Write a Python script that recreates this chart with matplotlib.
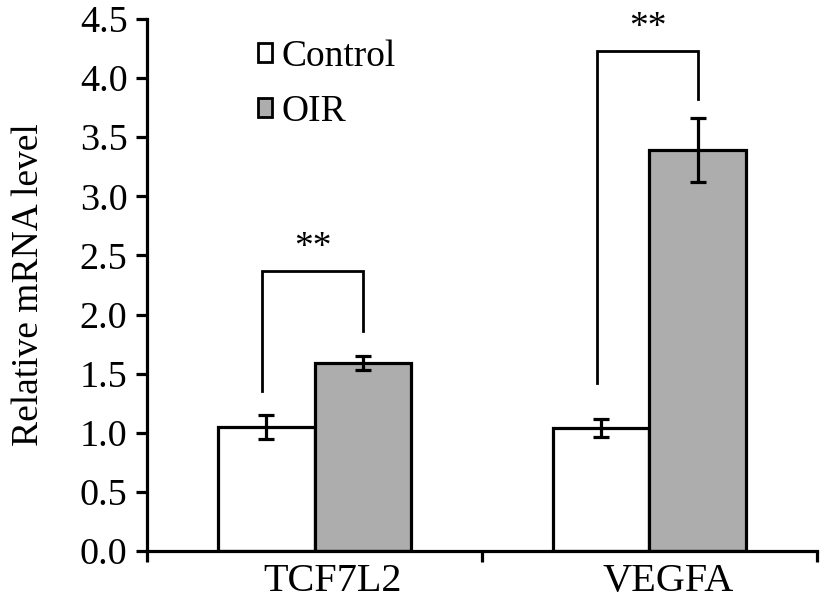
import numpy as np
import matplotlib.pyplot as plt
from matplotlib.patches import Patch

plt.rcParams['font.family'] = ['Liberation Serif', 'DejaVu Serif']

# data
genes = ['TCF7L2', 'VEGFA']
control = [1.05, 1.04]
control_err = [0.10, 0.08]
oir = [1.59, 3.39]
oir_err = [0.06, 0.27]

# significance brackets: (left leg bottom, right leg bottom, top)
bracket_left = [1.35, 1.42]
bracket_right = [1.86, 3.82]
bracket_top = [2.37, 4.23]
stars = ['**', '**']

fig = plt.figure(figsize=(8.24, 6.0), dpi=100)
ax = fig.add_axes([0.1784, 0.0817, 0.8131, 0.8866])

x = np.arange(len(genes))
w = 0.287
lw = 2.3

ax.bar(x - w/2, control, w, color='white', edgecolor='black', linewidth=lw, zorder=2)
ax.bar(x + w/2, oir, w, color='#adadad', edgecolor='black', linewidth=lw, zorder=2)
ax.errorbar(x - w/2, control, yerr=control_err, fmt='none', ecolor='black',
            elinewidth=lw, capsize=6, capthick=lw, zorder=3)
ax.errorbar(x + w/2, oir, yerr=oir_err, fmt='none', ecolor='black',
            elinewidth=lw, capsize=6, capthick=lw, zorder=3)

# brackets
for i in range(len(genes)):
    xl = x[i] - w/2 - 0.012
    xr = x[i] + w/2
    ax.plot([xl, xl, xr, xr], [bracket_left[i], bracket_top[i], bracket_top[i], bracket_right[i]],
            color='black', lw=2.0, solid_joinstyle='miter', zorder=3)
    ax.text((xl + xr)/2, bracket_top[i] + 0.05, stars[i], ha='center', va='bottom', fontsize=27)

ax.set_xlim(-0.5, 1.5)
ax.set_ylim(0, 4.5)
ax.set_yticks(np.arange(0, 4.51, 0.5))
ax.set_yticklabels(['%.1f' % v for v in np.arange(0, 4.51, 0.5)], fontsize=27.5)
ax.set_xticks([-0.5, 0.5, 1.5])
ax.set_xticklabels([])
# category labels sit a little right of centre in the original
ax.set_xticks(x + 0.055, minor=True)
ax.set_xticklabels(genes, minor=True, fontsize=29)
ax.tick_params(axis='x', which='minor', length=0, pad=9)
ax.tick_params(axis='both', which='major', length=8, width=lw, direction='out')
ax.tick_params(axis='y', pad=6)
ax.set_ylabel('Relative mRNA level', fontsize=27, labelpad=24)

for s in ['top', 'right']:
    ax.spines[s].set_visible(False)
for s in ['left', 'bottom']:
    ax.spines[s].set_linewidth(lw)

handles = [Patch(facecolor='white', edgecolor='black', linewidth=2),
           Patch(facecolor='#adadad', edgecolor='black', linewidth=2)]
ax.legend(handles, ['Control', 'OIR'], loc='upper left', bbox_to_anchor=(0.143, 0.99),
          frameon=False, fontsize=27, handlelength=0.38, handleheight=0.38,
          handletextpad=0.25, labelspacing=0.55, borderaxespad=0)

fig.savefig('out.png', dpi=100)
